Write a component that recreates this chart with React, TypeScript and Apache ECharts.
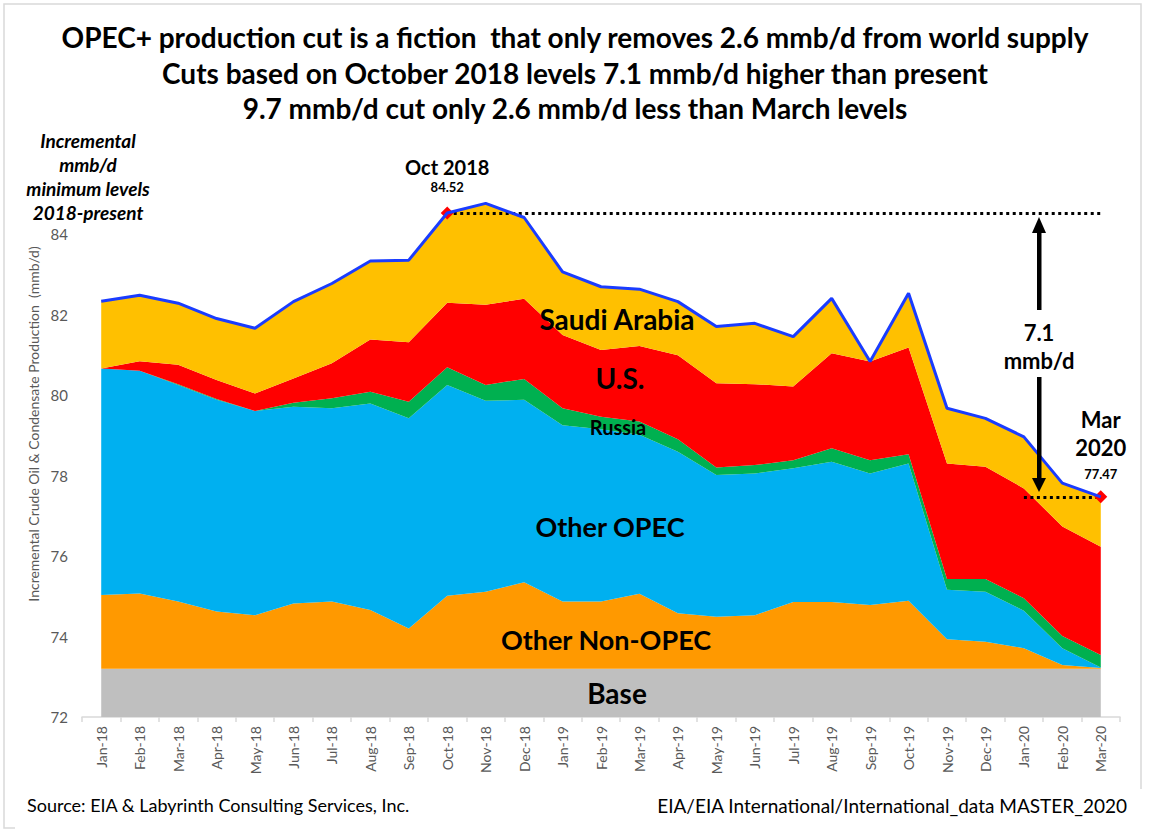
import React, { useEffect, useRef } from 'react';
import * as echarts from 'echarts';

const months = [
  'Jan-18', 'Feb-18', 'Mar-18', 'Apr-18', 'May-18', 'Jun-18', 'Jul-18', 'Aug-18', 'Sep-18',
  'Oct-18', 'Nov-18', 'Dec-18', 'Jan-19', 'Feb-19', 'Mar-19', 'Apr-19', 'May-19', 'Jun-19',
  'Jul-19', 'Aug-19', 'Sep-19', 'Oct-19', 'Nov-19', 'Dec-19', 'Jan-20', 'Feb-20', 'Mar-20',
];

const base = [
  73.2, 73.2, 73.2, 73.2, 73.2, 73.2, 73.2, 73.2, 73.2, 73.2, 73.2, 73.2, 73.2, 73.2,
  73.2, 73.2, 73.2, 73.2, 73.2, 73.2, 73.2, 73.2, 73.2, 73.2, 73.2, 73.2, 73.2,
];
const otherNonOpec = [
  1.83, 1.87, 1.67, 1.42, 1.33, 1.62, 1.67, 1.46, 1.0, 1.81, 1.91, 2.15, 1.67, 1.67,
  1.86, 1.38, 1.29, 1.33, 1.66, 1.66, 1.58, 1.69, 0.73, 0.67, 0.51, 0.09, 0.02,
];
const otherOpec = [
  5.63, 5.53, 5.38, 5.26, 5.07, 4.89, 4.8, 5.13, 5.22, 5.24, 4.75, 4.53, 4.38, 4.28,
  3.95, 4.01, 3.52, 3.52, 3.32, 3.48, 3.27, 3.41, 1.23, 1.24, 0.93, 0.42, 0.01,
];
const russia = [
  0, 0, 0.02, 0.02, 0, 0.1, 0.25, 0.29, 0.41, 0.44, 0.39, 0.52, 0.42, 0.31,
  0.33, 0.31, 0.19, 0.21, 0.2, 0.34, 0.33, 0.23, 0.27, 0.32, 0.31, 0.3, 0.31,
];
const us = [
  0, 0.24, 0.48, 0.47, 0.44, 0.6, 0.87, 1.3, 1.48, 1.6, 1.99, 1.99, 1.82, 1.66,
  1.88, 2.09, 2.09, 2.01, 1.83, 2.36, 2.45, 2.65, 2.87, 2.79, 2.73, 2.72, 2.69,
];
const saudi = [
  1.67, 1.64, 1.53, 1.53, 1.62, 1.91, 1.98, 1.95, 2.04, 2.23, 2.52, 2.02, 1.57, 1.57,
  1.41, 1.33, 1.41, 1.51, 1.24, 1.36, 0, 1.35, 1.37, 1.2, 1.28, 1.08, 1.24,
];

const yTicks = [72, 74, 76, 78, 80, 82, 84];
const peakLevel = 84.52;
const marchLevel = 77.47;

const FONT = 'Lato, "Open Sans", sans-serif';

const layers = [
  { name: 'Base', data: base, color: '#BFBFBF' },
  { name: 'Other Non-OPEC', data: otherNonOpec, color: '#FF9900' },
  { name: 'Other OPEC', data: otherOpec, color: '#00B0F0' },
  { name: 'Russia', data: russia, color: '#00B050' },
  { name: 'U.S.', data: us, color: '#FF0000' },
  { name: 'Saudi Arabia', data: saudi, color: '#FFC000' },
];

const totals = months.map((_, i) =>
  Math.round(layers.reduce((s, l) => s + l.data[i], 0) * 100) / 100
);

export default function App() {
  const ref = useRef<HTMLDivElement>(null);

  useEffect(() => {
    if (!ref.current) return;
    const chart = echarts.init(ref.current, undefined, { renderer: 'svg' });

    const areaSeries = layers.map((l) => ({
      name: l.name,
      type: 'line',
      stack: 'total',
      data: l.data,
      symbol: 'none',
      lineStyle: { width: 0 },
      areaStyle: { color: l.color, opacity: 1 },
      itemStyle: { color: l.color },
      silent: true,
      z: 2,
    }));

    const label = (x: number, y: number, text: string, size: number, extra: any = {}) => ({
      type: 'text',
      x,
      y,
      style: {
        text,
        fontSize: size,
        fontWeight: 'bold',
        fontFamily: FONT,
        fill: '#000',
        align: 'center',
        verticalAlign: 'middle',
        ...extra,
      },
      z: 100,
    });

    const option: any = {
      animation: false,
      textStyle: { fontFamily: FONT },
      grid: { left: 82, right: 30, top: 153.5, bottom: 116, containLabel: false },
      xAxis: {
        type: 'category',
        data: months,
        boundaryGap: true,
        axisLine: { lineStyle: { color: '#D9D9D9', width: 1.5 } },
        axisTick: { show: true, length: 5, lineStyle: { color: '#D9D9D9', width: 1.5 } },
        axisLabel: { rotate: 90, fontSize: 14, color: '#595959', margin: 9, fontFamily: FONT },
        splitLine: { show: false },
      },
      yAxis: {
        type: 'value',
        min: 72,
        max: 86,
        interval: 2,
        axisLine: { show: false },
        axisTick: { show: false },
        splitLine: { show: false },
        axisLabel: {
          fontSize: 15,
          color: '#595959',
          margin: 14,
          fontFamily: FONT,
          formatter: (v: number) => (yTicks.includes(v) ? String(v) : ''),
        },
      },
      series: [
        ...areaSeries,
        {
          name: 'Total',
          type: 'line',
          data: totals,
          symbol: 'none',
          lineStyle: { color: '#1A3CFF', width: 3 },
          z: 5,
          markLine: {
            silent: true,
            symbol: ['none', 'none'],
            label: { show: false },
            lineStyle: { color: '#000', width: 3, type: [3, 3.5] },
            data: [
              [{ coord: ['Oct-18', peakLevel] }, { coord: ['Mar-20', peakLevel] }],
              [{ coord: ['Jan-20', marchLevel] }, { coord: ['Mar-20', marchLevel] }],
            ],
          },
          markPoint: {
            silent: true,
            symbol: 'diamond',
            symbolSize: 13,
            itemStyle: { color: '#FF0000' },
            data: [
              {
                coord: ['Oct-18', peakLevel],
                value: peakLevel,
                label: {
                  show: true,
                  position: 'top',
                  distance: 11,
                  formatter: '{a|Oct 2018}\n{b|' + peakLevel.toFixed(2) + '}',
                  rich: {
                    a: { fontSize: 20, fontWeight: 'bold', color: '#000', lineHeight: 22, fontFamily: FONT },
                    b: { fontSize: 13, fontWeight: 'bold', color: '#000', lineHeight: 18, fontFamily: FONT },
                  },
                },
              },
              {
                coord: ['Mar-20', marchLevel],
                value: marchLevel,
                label: {
                  show: true,
                  position: 'top',
                  distance: 3,
                  formatter: '{a|Mar}\n{a|2020}\n{b|' + marchLevel.toFixed(2) + '}',
                  rich: {
                    a: { fontSize: 22, fontWeight: 'bold', color: '#000', lineHeight: 28, fontFamily: FONT, align: 'center' },
                    b: { fontSize: 13, fontWeight: 'bold', color: '#000', lineHeight: 26, fontFamily: FONT, align: 'center' },
                  },
                },
              },
            ],
          },
        },
      ],
      graphic: [
        {
          type: 'rect',
          shape: { x: 4, y: 4, width: 1137, height: 824 },
          style: { fill: 'none', stroke: '#D9D9D9', lineWidth: 1.5 },
          z: -10,
          silent: true,
        },
        {
          type: 'rect',
          shape: { x: 15, y: 789, width: 1135, height: 44 },
          style: { fill: '#fff' },
          z: -5,
          silent: true,
        },
        label(575, 37, 'OPEC+ production cut is a fiction  that only removes 2.6 mmb/d from world supply', 28),
        label(575, 73, 'Cuts based on October 2018 levels 7.1 mmb/d higher than present', 28),
        label(575, 108, '9.7 mmb/d cut only 2.6 mmb/d less than March levels', 28),
        label(88, 140, 'Incremental', 19, { fontStyle: 'italic' }),
        label(88, 164, 'mmb/d', 19, { fontStyle: 'italic' }),
        label(88, 188, 'minimum levels', 19, { fontStyle: 'italic' }),
        label(88, 212, '2018-present', 19, { fontStyle: 'italic' }),
        {
          type: 'text',
          x: 33,
          y: 424,
          rotation: Math.PI / 2,
          style: {
            text: 'Incremental Crude Oil & Condensate Production  (mmb/d)',
            fontSize: 14,
            fontFamily: FONT,
            fill: '#595959',
            align: 'center',
            verticalAlign: 'middle',
          },
          z: 100,
        },
        label(617, 319, 'Saudi Arabia', 28),
        label(620, 378, 'U.S.', 28),
        label(618, 427, 'Russia', 20),
        label(610, 526, 'Other OPEC', 27),
        label(606, 639, 'Other Non-OPEC', 27),
        label(617, 693, 'Base', 28),
        label(1039, 332, '7.1', 22),
        label(1039, 360, 'mmb/d', 22),
        {
          type: 'polygon',
          shape: { points: [[1039, 217], [1032, 233], [1046, 233]] },
          style: { fill: '#000' },
          z: 100,
        },
        {
          type: 'rect',
          shape: { x: 1037, y: 232, width: 4.5, height: 78 },
          style: { fill: '#000' },
          z: 100,
        },
        {
          type: 'rect',
          shape: { x: 1037, y: 377, width: 4.5, height: 103 },
          style: { fill: '#000' },
          z: 100,
        },
        {
          type: 'polygon',
          shape: { points: [[1032, 478], [1046, 478], [1039, 492]] },
          style: { fill: '#000' },
          z: 100,
        },
        {
          type: 'text',
          x: 27,
          y: 805,
          style: {
            text: 'Source: EIA & Labyrinth Consulting Services, Inc.',
            fontSize: 18,
            fontFamily: FONT,
            fill: '#000',
            align: 'left',
            verticalAlign: 'middle',
          },
          z: 100,
        },
        {
          type: 'text',
          x: 1127,
          y: 805,
          style: {
            text: 'EIA/EIA International/International_data MASTER_2020',
            fontSize: 19,
            fontFamily: FONT,
            fill: '#000',
            align: 'right',
            verticalAlign: 'middle',
          },
          z: 100,
        },
      ],
    };

    chart.setOption(option);
    return () => chart.dispose();
  }, []);

  return (
    <div
      ref={ref}
      style={{ position: 'absolute', left: 0, top: 0, width: 1150, height: 833, background: '#fff' }}
    />
  );
}
